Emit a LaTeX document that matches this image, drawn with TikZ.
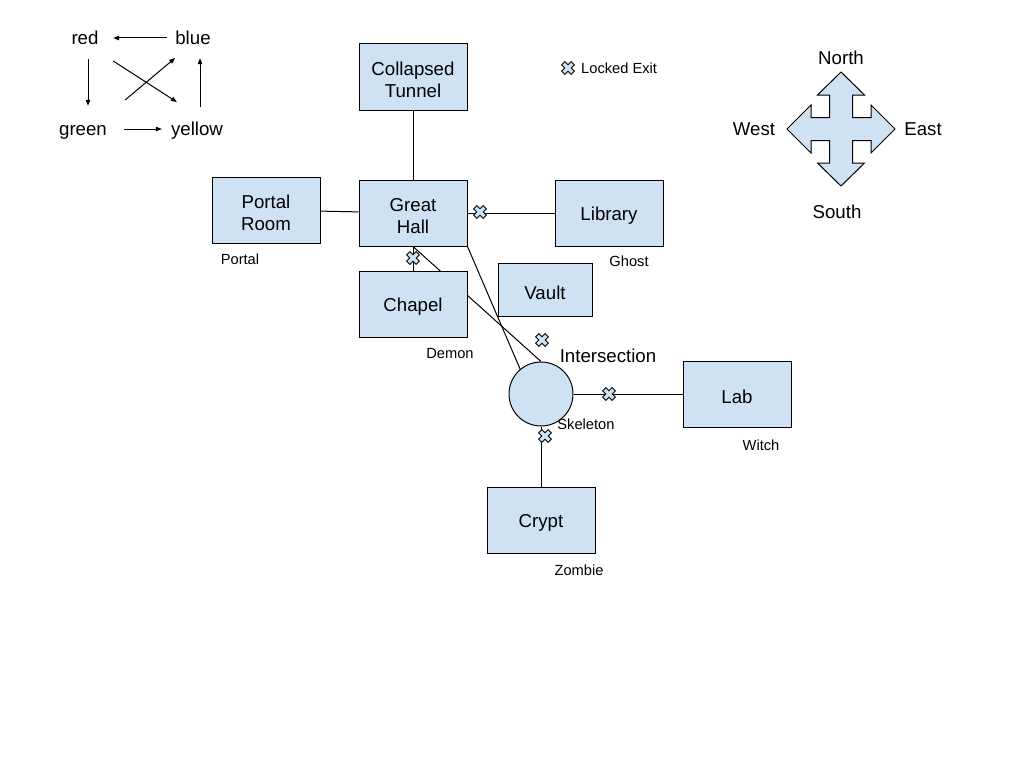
\documentclass[tikz,border=0pt]{standalone}
\usepackage{fontspec}
\setmainfont{Liberation Sans}
\usetikzlibrary{arrows.meta}

\definecolor{roomblue}{HTML}{CFE2F3}

\tikzset{
    room/.style={draw=black, fill=roomblue, line width=1pt, minimum width=108pt,
        minimum height=66pt, inner sep=0pt, align=center,
        font=\fontsize{18.67}{22}\selectfont,
        execute at begin node={\rule{0pt}{18.5pt}}},
    roomtext/.style={inner sep=0pt, align=center,
        font=\fontsize{18.67}{22}\selectfont},
    tag/.style={inner sep=0pt, font=\fontsize{14.67}{17}\selectfont},
    bigtext/.style={inner sep=0pt, font=\fontsize{18.67}{22}\selectfont},
    legword/.style={inner sep=0pt, text height=15pt, text depth=2pt,
        font=\fontsize{18.67}{22}\selectfont},
    link/.style={line width=1pt},
    legarrow/.style={line width=1pt, -{Triangle[length=6pt,width=4.5pt]}},
    lockmark/.pic={
        \draw[fill=roomblue, line width=0.8pt, rotate=45]
            (2.3,6.7) -- (2.3,2.3) -- (6.7,2.3) -- (6.7,-2.3) -- (2.3,-2.3)
            -- (2.3,-6.7) -- (-2.3,-6.7) -- (-2.3,-2.3) -- (-6.7,-2.3)
            -- (-6.7,2.3) -- (-2.3,2.3) -- (-2.3,6.7) -- cycle;
    }
}

\begin{document}
\begin{tikzpicture}[x=1pt, y=-1pt]

    % --- Page ---
    \fill[white] (0,0) rectangle (1024,768);
    \useasboundingbox (0,0) rectangle (1024,768);

    % --- Colour legend (top left) ---
    \node[legword] (red) at (85,38) {red};
    \node[legword] (blue) at (193,38) {blue};
    \node[legword] (green) at (83,129) {green};
    \node[legword] (yellow) at (197,129) {yellow};

    \draw[legarrow, shorten <=8pt, shorten >=14.5pt] (blue.west) -- (red.east);
    \draw[legarrow, shorten <=12.5pt, shorten >=14.5pt] ([xshift=3pt]red.south) -- ([xshift=5pt]green.north);
    \draw[legarrow, shorten <=17pt, shorten >=9pt] (green.east) -- (yellow.west);
    \draw[legarrow, shorten <=13.5pt, shorten >=11.5pt] ([xshift=3pt]yellow.north) -- ([xshift=7pt]blue.south);
    \draw[legarrow] ([shift={(14.5pt,-23pt)}]red.east) -- ([shift={(6pt,27pt)}]yellow.west);
    \draw[legarrow] ([shift={(18pt,29pt)}]green.east) -- ([shift={(0pt,-20pt)}]blue.west);

    % --- Locked exit legend ---
    \pic at (568,68) {lockmark};
    \node[tag, anchor=west] (lockedexit) at (581,68) {Locked Exit};

    % --- Compass ---
    \draw[fill=roomblue, line width=1pt, shift={(841,129)}]
        (0,-57) -- (23.5,-34) -- (11.5,-34) -- (11.5,-11.5) -- (30,-11.5)
        -- (30,-24) -- (54,0) -- (30,24) -- (30,11.5) -- (11.5,11.5)
        -- (11.5,34) -- (23.5,34) -- (0,57) -- (-23.5,34) -- (-11.5,34)
        -- (-11.5,11.5) -- (-30,11.5) -- (-30,24) -- (-54,0) -- (-30,-24)
        -- (-30,-11.5) -- (-11.5,-11.5) -- (-11.5,-34) -- (-23.5,-34) -- cycle;
    \node[bigtext] (north) at (841,58) {North};
    \node[bigtext] (south) at (837,212) {South};
    \node[bigtext] (west) at (754,129) {West};
    \node[bigtext] (east) at (923,129) {East};

    % --- Rooms ---
    \node[room] (tunnel) at (413,77) {};
    \node[roomtext] (tunneltext) at ([yshift=-3pt]tunnel.center) {Collapsed\\Tunnel};
    \node[room] (hall) at (413,213) {};
    \node[roomtext] (halltext) at ([yshift=-3pt]hall.center) {Great\\Hall};
    \node[room] (portal) at (266,210) {};
    \node[roomtext] (portaltext) at ([yshift=-3pt]portal.center) {Portal\\Room};
    \node[room] (library) at (609,213) {Library};
    \node[room, minimum width=94pt, minimum height=53pt] (vault) at (545,290) {Vault};
    \node[room] (lab) at (737,394) {Lab};
    \node[room] (crypt) at (541,520) {Crypt};
    \node[circle, draw=black, fill=roomblue, line width=1pt, minimum size=64pt, inner sep=0pt] (inter) at (541,394) {};

    % line hidden behind the chapel, so drawn before it
    \draw[link] (hall.south) -- (inter.north);
    \node[room] (chapel) at (413,304) {Chapel};

    % --- Passages ---
    \draw[link] (tunnel) -- (hall);
    \draw[link] (portal) -- (hall);
    \draw[link] (hall) -- (library);
    \draw[link] (hall) -- (chapel);
    \draw[link] (hall.south east) -- (inter.130);
    \draw[link] (inter.east) -- (lab.west);
    \draw[link] (inter.south) -- (crypt.north);

    % --- Locked exits ---
    \pic at (480,212) {lockmark};
    \pic at (413,258) {lockmark};
    \pic at (542,340) {lockmark};
    \pic at (609,394) {lockmark};
    \pic at (545,436) {lockmark};

    % --- Monsters and labels ---
    \node[bigtext] (interlabel) at (608,356) {Intersection};
    \node[tag] (portaltag) at (240,259) {Portal};
    \node[tag] (ghost) at (629,261) {Ghost};
    \node[tag] (demon) at (450,354) {Demon};
    \node[tag] (skeleton) at (586,424) {Skeleton};
    \node[tag] (witch) at (761,445) {Witch};
    \node[tag] (zombie) at (579,570) {Zombie};

\end{tikzpicture}
\end{document}
